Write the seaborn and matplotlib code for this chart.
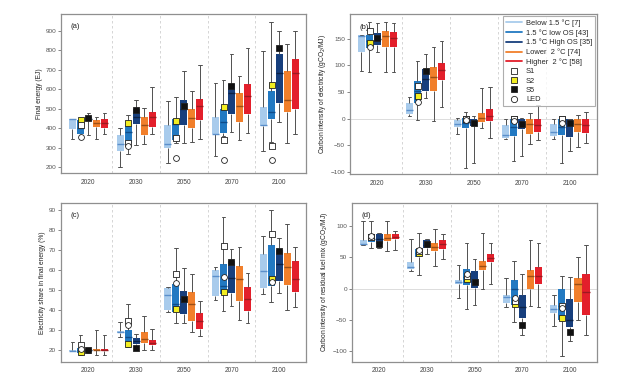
import numpy as np
import pandas as pd
import matplotlib
matplotlib.use("Agg")
import matplotlib.pyplot as plt
from matplotlib.lines import Line2D
import seaborn as sns

years = ["2020", "2030", "2050", "2070", "2100"]
categories = ["Below 1.5 °C [7]", "1.5 °C low OS [43]", "1.5 °C High OS [35]",
              "Lower  2 °C [74]", "Higher  2 °C [58]"]
box_colors = ["#a8cbec", "#2279c2", "#173f7d", "#f17f2b", "#e31f2b"]
median_colors = ["#5b8fcb", "#0f4c8a", "#0b2145", "#9a4e16", "#9c1a20"]

# box stats per year: [whisker low, q1, median, q3, whisker high]
# (a) final energy (EJ)
fe_below15 = [[345, 393, 445, 448, 448], [203, 285, 318, 365, 400], [222, 300, 320, 415, 538],
              [255, 368, 370, 455, 632], [283, 410, 415, 510, 797]]
fe_lowos = [[345, 370, 400, 440, 450], [268, 322, 380, 410, 465], [325, 340, 420, 445, 557],
            [360, 376, 430, 496, 644], [330, 445, 485, 590, 945]]
fe_highos = [[365, 435, 445, 455, 475], [315, 420, 455, 500, 545], [325, 418, 500, 545, 695],
             [380, 470, 580, 625, 782], [430, 530, 680, 780, 900]]
fe_lower2 = [[345, 405, 425, 440, 455], [318, 365, 418, 455, 505], [328, 398, 450, 500, 590],
             [338, 430, 512, 580, 668], [325, 485, 545, 695, 832]]
fe_higher2 = [[370, 400, 425, 445, 475], [370, 405, 455, 480, 610], [342, 440, 515, 550, 722],
              [375, 470, 565, 625, 810], [372, 500, 680, 755, 900]]
fe_s1 = [415, 325, 350, 340, 310]
fe_s2 = [440, 425, 438, 507, 620]
fe_s5 = [450, 493, 512, 615, 810]
fe_led = [355, 310, 245, 237, 235]

# (b) carbon intensity of electricity (gCO2/MJ)
ce_below15 = [[90, 125, 155, 157, 157], [5, 8, 17, 30, 40], [-29, -15, -10, -3, 2],
              [-38, -37, -30, -12, 0], [-38, -32, -24, -10, 0]]
ce_lowos = [[88, 132, 145, 158, 182], [-3, 30, 52, 70, 108], [-92, -18, -8, 2, 12],
            [-80, -32, -15, 0, 3], [-83, -30, -15, 0, 3]]
ce_highos = [[125, 138, 150, 160, 180], [38, 53, 75, 93, 122], [-84, -14, -7, 0, 5],
             [-69, -20, -10, 0, 2], [-60, -35, -8, 0, 0]]
ce_lower2 = [[88, 135, 155, 165, 182], [-5, 52, 78, 98, 135], [-18, -7, 2, 10, 58],
             [-47, -28, -10, 0, 10], [-53, -25, -10, 0, 7]]
ce_higher2 = [[88, 135, 152, 162, 180], [22, 72, 92, 105, 145], [-37, -5, 6, 18, 59],
              [-40, -25, -12, 0, 25], [-46, -27, -12, 0, 13]]
ce_s1 = [165, 62, 0, 0, 0]
ce_s2 = [142, 42, 0, 0, 0]
ce_s5 = [152, 90, -8, -10, -8]
ce_led = [135, 32, -2, -5, -8]

# (c) electricity share in final energy (%)
es_below15 = [[19, 19, 19.2, 19.5, 24], [26.5, 28.5, 29, 29.5, 34], [39, 40, 47.5, 51, 51.5],
              [45, 47, 57, 60, 61.5], [48, 51, 59.5, 68, 77]]
es_lowos = [[17, 18, 19.5, 21, 27.5], [21.5, 24, 26.5, 30, 43], [33.5, 39, 43, 53, 71],
            [39.5, 48, 52, 63, 86.5], [44, 52, 56, 72.5, 90]]
es_highos = [[18, 18.5, 19.5, 20.5, 21], [20.5, 23, 24.5, 26, 28], [33.5, 38, 45.5, 49.5, 61],
             [42, 48.5, 56, 64.5, 70.5], [48.5, 54.5, 63, 70, 76]]
es_lower2 = [[17, 19.5, 20, 20.5, 30], [19.5, 23.5, 25.5, 29, 37], [29, 34.5, 43, 49, 58],
             [35, 44.5, 55.5, 62, 71.5], [40, 52.5, 61.5, 68.5, 83]]
es_higher2 = [[17, 19, 20, 20.5, 27.5], [19.5, 22.5, 23.5, 25, 30.5], [27, 30.5, 34.5, 38.5, 44.5],
              [33.5, 39.5, 45.5, 51.5, 58.5], [41.5, 49, 55.5, 64.5, 71.5]]
es_s1 = [22.5, 34.5, 58, 72, 78]
es_s2 = [18.7, 23, 40.5, 49, 55.5]
es_s5 = [19.5, 21, 45.5, 64, 69.5]
es_led = [20.5, 32.5, 53.5, 56.5, 54]

# (d) carbon intensity of residual fuel mix (gCO2/MJ)
rf_below15 = [[70, 70, 72, 78, 108], [28, 32, 35, 42, 80], [-15, 7, 10, 13, 38],
              [-30, -24, -14, -10, 17], [-60, -40, -33, -26, -10]]
rf_lowos = [[65, 75, 80, 88, 108], [21, 50, 57, 63, 90], [-33, 5, 18, 32, 73],
            [-54, -27, 0, 13, 45], [-108, -50, -28, 0, 20]]
rf_highos = [[65, 72, 80, 88, 90], [55, 65, 70, 78, 80], [-26, 1, 12, 29, 47],
             [-74, -48, -30, -10, 23], [-85, -62, -50, -17, 19]]
rf_lower2 = [[60, 77, 82, 87, 108], [37, 60, 67, 73, 96], [0, 30, 37, 45, 89],
             [-28, -1, 20, 30, 78], [-50, -22, 8, 17, 51]]
rf_higher2 = [[62, 80, 83, 87, 92], [48, 63, 72, 78, 87], [8, 42, 49, 56, 73],
              [-30, 7, 20, 35, 73], [-74, -42, -5, 23, 70]]
rf_s1 = [83, 60, 20, -20, -28]
rf_s2 = [83, 57, 15, -25, -47]
rf_s5 = [72, 72, 10, -58, -70]
rf_led = [84, 62, 24, -16, -32]

panels = [
    ("(a)", "Final energy (EJ)", [fe_below15, fe_lowos, fe_highos, fe_lower2, fe_higher2],
     [fe_s1, fe_s2, fe_s5, fe_led], (170, 985), np.arange(200, 901, 100), False),
    ("(b)", "Carbon intensity of electricity (gCO$_2$/MJ)",
     [ce_below15, ce_lowos, ce_highos, ce_lower2, ce_higher2],
     [ce_s1, ce_s2, ce_s5, ce_led], (-104, 196), np.arange(-100, 151, 50), True),
    ("(c)", "Electricity share in final energy (%)",
     [es_below15, es_lowos, es_highos, es_lower2, es_higher2],
     [es_s1, es_s2, es_s5, es_led], (13.8, 93.7), np.arange(20, 91, 10), False),
    ("(d)", "Carbon intensity of residual fuel mix (gCO$_2$/MJ)",
     [rf_below15, rf_lowos, rf_highos, rf_lower2, rf_higher2],
     [rf_s1, rf_s2, rf_s5, rf_led], (-118, 138), np.arange(-100, 101, 50), True),
]

# marker styles: (label, category it sits on, face colour, shape)
marker_specs = [("S2", categories[1], "#f2ee22", "s"),
                ("S5", categories[2], "#111111", "s"),
                ("S1", categories[1], "white", "s"),
                ("LED", categories[1], "white", "o")]
marker_order = [1, 2, 0, 3]  # index into the 4 marker arrays (S1, S2, S5, LED)

sns.set_theme(style="white")
plt.rcParams["font.family"] = ["Liberation Sans", "DejaVu Sans"]

fig = plt.figure(figsize=(6.24, 3.87), dpi=100)
positions = [[0.098, 0.553, 0.393, 0.411], [0.561, 0.550, 0.396, 0.413],
             [0.098, 0.065, 0.393, 0.411], [0.564, 0.065, 0.393, 0.411]]

for pos, (letter, ylabel, series, markers, ylim, yticks, zero) in zip(positions, panels):
    ax = fig.add_axes(pos)
    rows = []
    for cat, stats in zip(categories, series):
        for yr, five in zip(years, stats):
            for v in five:
                rows.append((yr, cat, v))
    df = pd.DataFrame(rows, columns=["year", "scenario", "value"])

    for sep in np.arange(0.5, len(years) - 1, 1.0):
        ax.axvline(sep, color="#cfcfcf", lw=0.6, ls=(0, (3, 3)), zorder=0)
    if zero:
        ax.axhline(0, color="#dcdcdc", lw=0.7, zorder=0)

    for cat, col, mcol in zip(categories, box_colors, median_colors):
        sns.boxplot(data=df[df.scenario == cat], x="year", y="value", hue="scenario",
                    hue_order=categories, order=years, palette={c: col for c in categories},
                    saturation=1, dodge=True, width=0.84, gap=0.12, whis=(0, 100),
                    linewidth=0.7, linecolor="#505050", boxprops={"edgecolor": "none"},
                    medianprops={"color": mcol, "linewidth": 1.0},
                    legend=False, ax=ax)

    for (name, cat, face, shape), idx in zip(marker_specs, marker_order):
        mdf = pd.DataFrame({"year": years, "scenario": cat, "value": markers[idx]})
        sns.stripplot(data=mdf, x="year", y="value", hue="scenario", hue_order=categories,
                      order=years, dodge=True, jitter=False,
                      palette={c: face for c in categories}, marker=shape, size=4.2,
                      linewidth=0.6, edgecolor="#222222", legend=False, ax=ax, zorder=5)

    ax.set_xlim(-0.57, 4.57)
    ax.set_ylim(*ylim)
    ax.set_yticks(yticks)
    ax.set_xlabel("")
    ax.set_ylabel(ylabel, fontsize=4.8, color="#222222", labelpad=2)
    ax.tick_params(axis="y", labelsize=4.6, colors="#555555", length=2, width=0.5, pad=1.5,
                   left=True)
    ax.tick_params(axis="x", labelsize=4.8, colors="#444444", length=0, pad=4)
    for sp in ax.spines.values():
        sp.set_color("#8f8f8f")
        sp.set_linewidth(0.9)
    ax.text(0.04, 0.94, letter, transform=ax.transAxes, fontsize=5.5, color="#222222",
            va="top", ha="left")

    if letter == "(b)":
        handles = [Line2D([], [], color=c, lw=1.3) for c in box_colors]
        handles += [Line2D([], [], ls="", marker="s", mfc="white", mec="#222222", ms=4.5, mew=0.6),
                    Line2D([], [], ls="", marker="s", mfc="#f2ee22", mec="#222222", ms=4.5, mew=0.6),
                    Line2D([], [], ls="", marker="s", mfc="#111111", mec="#222222", ms=4.5, mew=0.6),
                    Line2D([], [], ls="", marker="o", mfc="white", mec="#222222", ms=4.5, mew=0.6)]
        labels = categories + ["S1", "S2", "S5", "LED"]
        leg = ax.legend(handles, labels, loc="upper right", fontsize=5.4, frameon=True,
                        fancybox=False, edgecolor="#9a9a9a", borderaxespad=0.25,
                        labelspacing=0.28, handlelength=2.2, handletextpad=0.5,
                        borderpad=0.4)
        leg.get_frame().set_linewidth(0.8)

fig.savefig("out.png", dpi=100, facecolor="white")
